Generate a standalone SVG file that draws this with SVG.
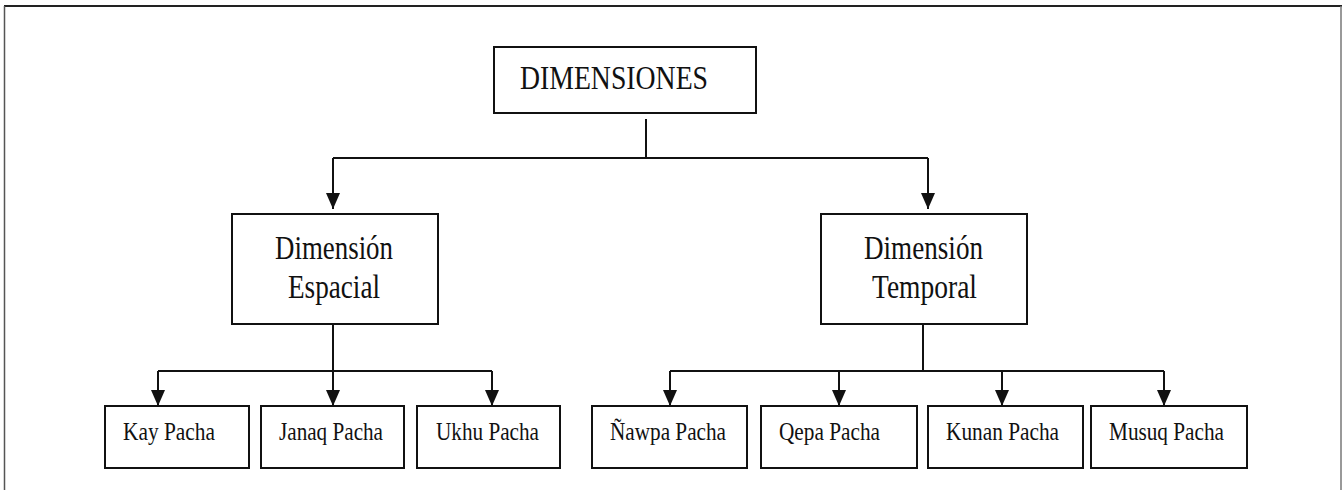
<svg xmlns="http://www.w3.org/2000/svg" width="1342" height="490" viewBox="0 0 1342 490">
<defs>
<style>
.box{fill:#fff;stroke:#111;stroke-width:2}
.con{fill:none;stroke:#111;stroke-width:2}
.t1{font-family:"Liberation Serif","Times New Roman",serif;font-size:33px;fill:#111}
.t2{font-family:"Liberation Serif","Times New Roman",serif;font-size:25px;fill:#111}
</style>
<marker id="arr" markerUnits="userSpaceOnUse" viewBox="0 0 16 14" markerWidth="16" markerHeight="14" refX="16" refY="7" orient="auto">
<path d="M0,0 L16,7 L0,14 z" fill="#111"/>
</marker>
</defs>
<rect width="1342" height="490" fill="#fff"/>
<g id="frame">
<line x1="4" y1="6" x2="1342" y2="6" stroke="#222" stroke-width="2"/>
<line x1="4.5" y1="6" x2="4.5" y2="490" stroke="#555" stroke-width="1.5"/>
<line x1="1341" y1="6" x2="1341" y2="490" stroke="#777" stroke-width="1.5"/>
</g>
<g id="connectors">
<path class="con" d="M646,119 V158 M333,158 H928"/>
<path class="con" d="M333,158 V209" marker-end="url(#arr)"/>
<path class="con" d="M928,158 V209" marker-end="url(#arr)"/>
<path class="con" d="M333,324 V371 M158,371 H492"/>
<path class="con" d="M158,371 V406" marker-end="url(#arr)"/>
<path class="con" d="M333,371 V406" marker-end="url(#arr)"/>
<path class="con" d="M492,371 V406" marker-end="url(#arr)"/>
<path class="con" d="M923,324 V371 M670,371 H1164"/>
<path class="con" d="M670,371 V406" marker-end="url(#arr)"/>
<path class="con" d="M839,371 V406" marker-end="url(#arr)"/>
<path class="con" d="M1002,371 V406" marker-end="url(#arr)"/>
<path class="con" d="M1164,371 V406" marker-end="url(#arr)"/>
</g>
<g id="dimensiones">
<rect class="box" x="494" y="47" width="262" height="66"/>
<text class="t1" x="520" y="89" textLength="188" lengthAdjust="spacingAndGlyphs">DIMENSIONES</text>
</g>
<g id="espacial">
<rect class="box" x="232" y="214" width="206" height="110"/>
<text class="t1" x="275" y="259" textLength="118" lengthAdjust="spacingAndGlyphs">Dimensión</text>
<text class="t1" x="288" y="298" textLength="92" lengthAdjust="spacingAndGlyphs">Espacial</text>
</g>
<g id="temporal">
<rect class="box" x="821" y="214" width="206" height="110"/>
<text class="t1" x="864" y="259" textLength="119" lengthAdjust="spacingAndGlyphs">Dimensión</text>
<text class="t1" x="872" y="298" textLength="105" lengthAdjust="spacingAndGlyphs">Temporal</text>
</g>
<g id="kay">
<rect class="box" x="105" y="406" width="144" height="62"/>
<text class="t2" x="123" y="440" textLength="92" lengthAdjust="spacingAndGlyphs">Kay Pacha</text>
</g>
<g id="janaq">
<rect class="box" x="261" y="406" width="143" height="62"/>
<text class="t2" x="279" y="440" textLength="104" lengthAdjust="spacingAndGlyphs">Janaq Pacha</text>
</g>
<g id="ukhu">
<rect class="box" x="417" y="406" width="143" height="62"/>
<text class="t2" x="436" y="440" textLength="103" lengthAdjust="spacingAndGlyphs">Ukhu Pacha</text>
</g>
<g id="nawpa">
<rect class="box" x="592" y="406" width="155" height="62"/>
<text class="t2" x="610" y="440" textLength="116" lengthAdjust="spacingAndGlyphs">Ñawpa Pacha</text>
</g>
<g id="qepa">
<rect class="box" x="761" y="406" width="156" height="62"/>
<text class="t2" x="779" y="440" textLength="101" lengthAdjust="spacingAndGlyphs">Qepa Pacha</text>
</g>
<g id="kunan">
<rect class="box" x="928" y="406" width="155" height="62"/>
<text class="t2" x="946" y="440" textLength="113" lengthAdjust="spacingAndGlyphs">Kunan Pacha</text>
</g>
<g id="musuq">
<rect class="box" x="1091" y="406" width="156" height="62"/>
<text class="t2" x="1109" y="440" textLength="115" lengthAdjust="spacingAndGlyphs">Musuq Pacha</text>
</g>
</svg>
